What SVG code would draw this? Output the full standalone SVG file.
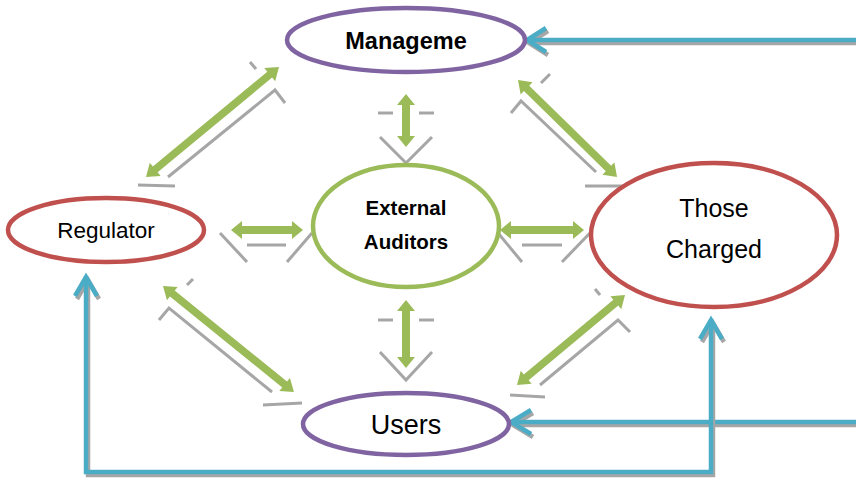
<svg xmlns="http://www.w3.org/2000/svg" width="856" height="482" viewBox="0 0 856 482">
<style>
.lbl{font-family:"Liberation Sans",Arial,sans-serif;fill:#000;text-anchor:middle}
.b{font-weight:bold}
.ga{fill:#9BBB59}
.gr{fill:none;stroke:#A6A6A6;stroke-width:3;stroke-linecap:butt}
.bl{fill:none;stroke:#4BACC6;stroke-width:4.5;stroke-linejoin:miter}
.sh{fill:none;stroke:#A6A6A6;stroke-width:4.5;stroke-linejoin:miter}
</style>
<rect width="856" height="482" fill="#fff"/>
<g id="connectors">
  <g id="mgmt-reg">
    <polyline class="gr" points="168,177 275,90 285,103"/>
    <line class="gr" x1="138" y1="185" x2="175" y2="186"/>
    <line class="gr" x1="250" y1="62" x2="256" y2="69"/>
    <polygon class="ga" transform="translate(146,177) rotate(-39.6)" points="0,0 12,-8.5 12,-3.8 160.6,-3.8 160.6,-8.5 172.6,0 160.6,8.5 160.6,3.8 12,3.8 12,8.5"/>
  </g>
  <g id="mgmt-those">
    <polyline class="gr" points="511,113 521,101 596,172"/>
    <line class="gr" x1="585" y1="186" x2="623" y2="186"/>
    <line class="gr" x1="541" y1="83" x2="550" y2="74"/>
    <polygon class="ga" transform="translate(518,80) rotate(44.4)" points="0,0 12,-8.5 12,-3.8 126.6,-3.8 126.6,-8.5 138.6,0 126.6,8.5 126.6,3.8 12,3.8 12,8.5"/>
  </g>
  <g id="reg-users">
    <polyline class="gr" points="159,320 169,308 272,392"/>
    <line class="gr" x1="263" y1="405" x2="302" y2="403"/>
    <line class="gr" x1="187" y1="285" x2="193" y2="279"/>
    <polygon class="ga" transform="translate(163,286) rotate(39)" points="0,0 12,-8.5 12,-3.8 156.5,-3.8 156.5,-8.5 168.5,0 156.5,8.5 156.5,3.8 12,3.8 12,8.5"/>
  </g>
  <g id="users-those">
    <polyline class="gr" points="540,385 618,320 630,332"/>
    <line class="gr" x1="510" y1="395" x2="545" y2="397"/>
    <line class="gr" x1="595" y1="289" x2="600" y2="295"/>
    <polygon class="ga" transform="translate(517,385) rotate(-39.8)" points="0,0 12,-8.5 12,-3.8 128.6,-3.8 128.6,-8.5 140.6,0 128.6,8.5 128.6,3.8 12,3.8 12,8.5"/>
  </g>
  <g id="mgmt-aud">
    <line class="gr" x1="378" y1="113" x2="393" y2="113"/>
    <line class="gr" x1="419" y1="113" x2="434" y2="113"/>
    <polyline class="gr" points="380,137 406,163 432,137"/>
    <polygon class="ga" transform="translate(406,94) rotate(90)" points="0,0 11,-9 11,-4 42,-4 42,-9 53,0 42,9 42,4 11,4 11,9"/>
  </g>
  <g id="aud-users">
    <line class="gr" x1="378" y1="320" x2="393" y2="320"/>
    <line class="gr" x1="419" y1="320" x2="434" y2="320"/>
    <polyline class="gr" points="380,352 406,380 432,352"/>
    <polygon class="ga" transform="translate(406,300) rotate(90)" points="0,0 11,-9 11,-4 57,-4 57,-9 68,0 57,9 57,4 11,4 11,9"/>
  </g>
  <g id="reg-aud">
    <line class="gr" x1="247" y1="245" x2="286" y2="245"/>
    <line class="gr" x1="220" y1="233" x2="247" y2="262"/>
    <line class="gr" x1="287" y1="262" x2="312" y2="233"/>
    <polygon class="ga" transform="translate(231,230)" points="0,0 11,-9 11,-4 61,-4 61,-9 72,0 61,9 61,4 11,4 11,9"/>
  </g>
  <g id="aud-those">
    <line class="gr" x1="522" y1="245" x2="562" y2="245"/>
    <line class="gr" x1="498" y1="233" x2="522" y2="262"/>
    <line class="gr" x1="562" y1="262" x2="590" y2="233"/>
    <polygon class="ga" transform="translate(500,230)" points="0,0 11,-9 11,-4 73,-4 73,-9 84,0 73,9 73,4 11,4 11,9"/>
  </g>
  <g id="blue-top">
    <g transform="translate(2,3)">
      <line class="sh" x1="528" y1="40" x2="856" y2="40"/>
      <polyline class="sh" points="546,28 527,40 546,52"/>
    </g>
    <line class="bl" x1="528" y1="40" x2="856" y2="40"/>
    <polyline class="bl" points="546,28 527,40 546,52"/>
  </g>
  <g id="blue-users">
    <g transform="translate(2,3)">
      <line class="sh" x1="512" y1="422" x2="856" y2="422"/>
      <polyline class="sh" points="531,410 511,422 531,434"/>
    </g>
    <line class="bl" x1="512" y1="422" x2="856" y2="422"/>
    <polyline class="bl" points="531,410 511,422 531,434"/>
  </g>
  <g id="blue-bottom">
    <g transform="translate(2,3)">
      <polyline class="sh" points="86,278 86,472 711,472 711,320"/>
      <polyline class="sh" points="75,296 86,277 97,296"/>
      <polyline class="sh" points="700,339 711,320 722,339"/>
    </g>
    <polyline class="bl" points="86,278 86,472 711,472 711,320"/>
    <polyline class="bl" points="75,296 86,277 97,296"/>
    <polyline class="bl" points="700,339 711,320 722,339"/>
  </g>
</g>
<g id="management">
  <ellipse cx="406" cy="40" rx="119" ry="32" fill="#fff" stroke="#8064A2" stroke-width="4.5"/>
  <text class="lbl b" x="406" y="49" font-size="23.5">Manageme</text>
</g>
<g id="external-auditors">
  <ellipse cx="406" cy="226" rx="93" ry="61" fill="#fff" stroke="#9BBB59" stroke-width="4.5"/>
  <text class="lbl b" x="406" y="215" font-size="20.5">External</text>
  <text class="lbl b" x="406" y="249" font-size="20.5">Auditors</text>
</g>
<g id="those-charged">
  <ellipse cx="714" cy="235" rx="123" ry="72" fill="#fff" stroke="#C0504D" stroke-width="4.5"/>
  <text class="lbl" x="714" y="217" font-size="25">Those</text>
  <text class="lbl" x="714" y="258" font-size="25">Charged</text>
</g>
<g id="regulator">
  <ellipse cx="106" cy="230" rx="98" ry="32" fill="#fff" stroke="#C0504D" stroke-width="4.5"/>
  <text class="lbl" x="106" y="238" font-size="22.5">Regulator</text>
</g>
<g id="users">
  <ellipse cx="406" cy="424" rx="103" ry="31" fill="#fff" stroke="#8064A2" stroke-width="4.5"/>
  <text class="lbl" x="406" y="434" font-size="27">Users</text>
</g>
</svg>
